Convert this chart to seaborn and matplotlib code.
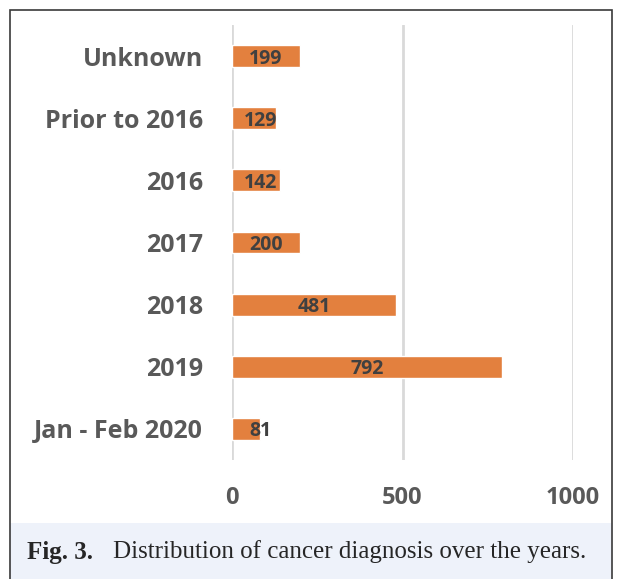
import pandas as pd
import matplotlib.pyplot as plt
import seaborn as sns
from matplotlib.patches import Rectangle

# Chart data
periods = ["Unknown", "Prior to 2016", "2016", "2017", "2018", "2019", "Jan - Feb 2020"]
counts = [199, 129, 142, 200, 481, 792, 81]
x_ticks = [0, 500, 1000]
caption_bold = "Fig. 3."
caption_text = "Distribution of cancer diagnosis over the years."

sns.set_style("white")
plt.rcParams["font.family"] = ["Open Sans", "DejaVu Sans"]

df = pd.DataFrame({"period": periods, "count": counts})

fig = plt.figure(figsize=(6.22, 5.79), dpi=100)

# frame and caption band
fig.patches.append(Rectangle((10 / 622, 0), 602 / 622, 56 / 579, transform=fig.transFigure,
                             facecolor="#EEF2FA", edgecolor="none", zorder=0))
fig.patches.append(Rectangle((10 / 622, -0.01), 602 / 622, 569 / 579 + 0.01, transform=fig.transFigure,
                             facecolor="none", edgecolor="#3a3a3a", lw=1.2, zorder=1))

ax = fig.add_axes([232 / 622, 119 / 579, 341 / 622, 435 / 579])
ax.patch.set_alpha(0)
sns.barplot(data=df, y="period", x="count", color="#E3803E", saturation=1,
            width=0.35, orient="h", ax=ax)

ax.set_xlim(0, 1000)
ax.set_ylim(6.5, -0.5)
ax.set_xticks(x_ticks)
ax.xaxis.grid(True, color="#D9D9D9", lw=2)
ax.set_axisbelow(True)
for s in ax.spines.values():
    s.set_visible(False)
ax.set_xlabel("")
ax.set_ylabel("")
ax.tick_params(axis="y", length=0, pad=21, labelsize=18, labelcolor="#595959")
ax.tick_params(axis="x", length=0, pad=19, labelsize=17, labelcolor="#595959")
for lbl in ax.get_xticklabels() + ax.get_yticklabels():
    lbl.set_fontweight("bold")

# value labels
for i, v in enumerate(counts):
    ax.text(max(v / 2, 84), i + 0.04, str(v), ha="center", va="center",
            fontsize=14, fontweight="bold", color="#404040")

# caption
fig.text(27 / 622, 27 / 579, caption_bold, fontsize=18, fontweight="bold",
         family="Liberation Serif", va="center")
fig.text(113 / 622, 27 / 579, caption_text, fontsize=18,
         family="Liberation Serif", va="center")

plt.savefig("out.png", dpi=100)
plt.close()
